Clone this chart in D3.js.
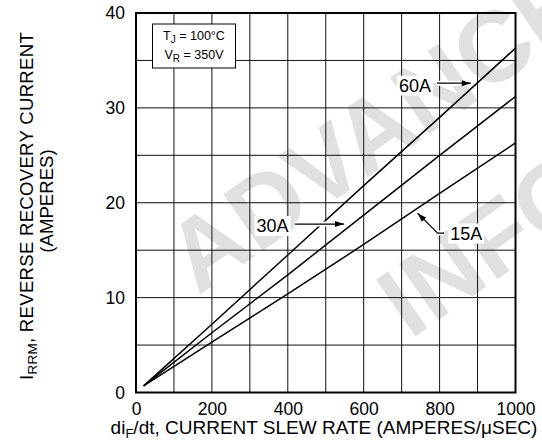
<!DOCTYPE html>
<html>
<head>
<meta charset="utf-8">
<script src="https://cdn.jsdelivr.net/npm/d3@7"></script>
<style>
  html, body { margin: 0; padding: 0; background: #fff; }
  svg { display: block; font-family: "Liberation Sans", Arial, Helvetica, sans-serif; }
</style>
</head>
<body>
<svg id="chart" width="542" height="440"></svg>
<script>
// ---- data ----
const slewRates = [20, 200, 400, 600, 800, 1000];
const irrm60A = [0.7, 7.2, 14.5, 21.8, 29.0, 36.3];
const irrm30A = [0.7, 6.3, 12.4, 18.7, 25.0, 31.2];
const irrm15A = [0.7, 5.3, 10.4, 15.6, 21.0, 26.3];
const seriesNames = ["60A", "30A", "15A"];
const xTicks = [0, 200, 400, 600, 800, 1000];
const yTicks = [0, 10, 20, 30, 40];
const xGrid = d3.range(0, 1001, 100);
const yGrid = d3.range(0, 41, 5);

const svg = d3.select("#chart");
const W = 542, H = 440;
const m = { left: 136, right: W - 515.5, top: 13, bottom: H - 392.5 };
const x = d3.scaleLinear().domain([0, 1000]).range([m.left, W - m.right]);
const y = d3.scaleLinear().domain([0, 40]).range([H - m.bottom, m.top]);

svg.append("rect").attr("width", W).attr("height", H).attr("fill", "#fff");

// ---- watermark ----
const wm = svg.append("g").attr("fill", "#e0e0e0").attr("font-weight", "bold")
  .attr("font-size", 100).attr("font-family", "'Liberation Sans', Arial, sans-serif");
wm.append("text").attr("transform", "translate(198,296) rotate(-35)").text("ADVANCE");
wm.append("text").attr("transform", "translate(410,340) rotate(-35)").text("INFORMATION");

// ---- grid ----
const grid = svg.append("g").attr("stroke", "#111").attr("stroke-width", 1);
grid.selectAll(".vx").data(xGrid).join("line")
  .attr("x1", d => x(d)).attr("x2", d => x(d)).attr("y1", y(0)).attr("y2", y(40));
grid.selectAll(".hy").data(yGrid).join("line")
  .attr("y1", d => y(d)).attr("y2", d => y(d)).attr("x1", x(0)).attr("x2", x(1000));
svg.append("rect").attr("x", x(0)).attr("y", y(40)).attr("width", x(1000) - x(0))
  .attr("height", y(0) - y(40)).attr("fill", "none").attr("stroke", "#000").attr("stroke-width", 2);

// ---- axes (labels only) ----
const xAxis = d3.axisBottom(x).tickValues(xTicks).tickFormat(d3.format("d")).tickSize(0).tickPadding(10);
const gx = svg.append("g").attr("transform", `translate(0,${y(0)})`).call(xAxis);
gx.select(".domain").remove();
gx.selectAll("text").attr("font-size", 17.5).attr("fill", "#000")
  .attr("font-family", "'Liberation Sans', Arial, sans-serif");
const yAxis = d3.axisLeft(y).tickValues(yTicks).tickFormat(d3.format("d")).tickSize(0).tickPadding(11);
const gy = svg.append("g").attr("transform", `translate(${x(0)},0)`).call(yAxis);
gy.select(".domain").remove();
gy.selectAll("text").attr("font-size", 17.5).attr("fill", "#000")
  .attr("font-family", "'Liberation Sans', Arial, sans-serif");

// ---- axis titles ----
const xt = svg.append("text").attr("x", 324).attr("y", 434).attr("text-anchor", "middle")
  .attr("font-size", 19);
xt.append("tspan").text("di");
xt.append("tspan").attr("font-size", 13).attr("dy", 3.5).text("F");
xt.append("tspan").attr("dy", -3.5).text("/dt, CURRENT SLEW RATE (AMPERES/\u03bcSEC)");

const yt1 = svg.append("text").attr("transform", "translate(33.3,206) rotate(-90)")
  .attr("text-anchor", "middle").attr("font-size", 18.6);
yt1.append("tspan").text("I");
yt1.append("tspan").attr("font-size", 13.5).attr("dy", 4).text("RRM");
yt1.append("tspan").attr("dy", -4).text(", REVERSE RECOVERY CURRENT");
// stretch the first line to the reference's length
const natural = yt1.node().getComputedTextLength();
const nChars = yt1.text().length;
yt1.attr("letter-spacing", (348 - natural) / nChars);
svg.append("text").attr("transform", "translate(53.3,201) rotate(-90)")
  .attr("text-anchor", "middle").attr("font-size", 18.6).text("(AMPERES)");

// ---- curves ----
const series = [irrm60A, irrm30A, irrm15A].map((vals, i) => ({
  name: seriesNames[i], pts: slewRates.map((s, j) => [s, vals[j]])
}));
const line = d3.line().x(d => x(d[0])).y(d => y(d[1]));
svg.append("g").selectAll("path").data(series).join("path")
  .attr("d", d => line(d.pts)).attr("fill", "none").attr("stroke", "#000").attr("stroke-width", 1.5);

// ---- legend box ----
const lg = svg.append("g");
lg.append("rect").attr("x", 152.5).attr("y", 24).attr("width", 83).attr("height", 44)
  .attr("fill", "#fff").attr("stroke", "#000").attr("stroke-width", 1);
const l1 = lg.append("text").attr("x", 194).attr("y", 40).attr("text-anchor", "middle").attr("font-size", 12.5);
l1.append("tspan").text("T");
l1.append("tspan").attr("font-size", 10).attr("dy", 3).text("J");
l1.append("tspan").attr("dy", -3).text(" = 100\u00b0C");
const l2 = lg.append("text").attr("x", 194).attr("y", 59).attr("text-anchor", "middle").attr("font-size", 12.5);
l2.append("tspan").text("V");
l2.append("tspan").attr("font-size", 10).attr("dy", 3).text("R");
l2.append("tspan").attr("dy", -3).text(" = 350V");

// ---- annotations (in data units) ----
const notes = [
  { text: "60A", tx: 735, ty: 32.4, path: [[793, 32.6], [882, 32.6]] },
  { text: "30A", tx: 360, ty: 17.6, path: [[419, 17.75], [548, 17.75]] },
  { text: "15A", tx: 870, ty: 16.8, path: [[812, 16.8], [795, 16.8], [742, 18.9]] }
];
const ann = svg.append("g");
notes.forEach(n => {
  const pl = d3.line().x(d => x(d[0])).y(d => y(d[1]));
  ann.append("path").attr("d", pl(n.path)).attr("fill", "none").attr("stroke", "#fff").attr("stroke-width", 5);
  const t = ann.append("text").attr("x", x(n.tx)).attr("y", y(n.ty)).attr("dy", "0.36em")
    .attr("text-anchor", "middle").attr("font-size", 18).text(n.text);
  const bb = t.node().getBBox();
  ann.insert("rect", "text:last-of-type").attr("x", bb.x - 2).attr("y", bb.y)
    .attr("width", bb.width + 4).attr("height", bb.height).attr("fill", "#fff");
  t.raise();
  ann.append("path").attr("d", pl(n.path)).attr("fill", "none").attr("stroke", "#000").attr("stroke-width", 1.2);
  // arrowhead at the last point
  const p2 = n.path[n.path.length - 1], p1 = n.path[n.path.length - 2];
  const X2 = x(p2[0]), Y2 = y(p2[1]), X1 = x(p1[0]), Y1 = y(p1[1]);
  const ang = Math.atan2(Y2 - Y1, X2 - X1);
  const L = 9, Wd = 3;
  const bx = X2 - L * Math.cos(ang), by = Y2 - L * Math.sin(ang);
  const px = -Math.sin(ang) * Wd, py = Math.cos(ang) * Wd;
  ann.append("path").attr("d", `M${X2},${Y2}L${bx + px},${by + py}L${bx - px},${by - py}Z`).attr("fill", "#000");
});
</script>
</body>
</html>
